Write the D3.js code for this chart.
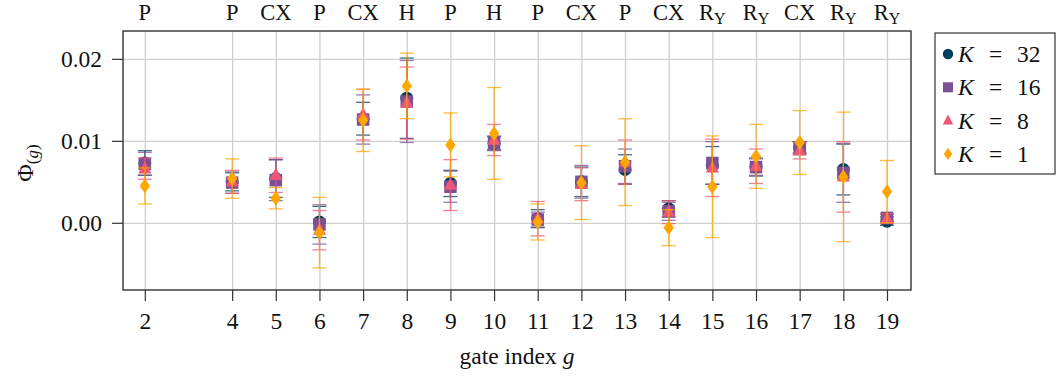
<!DOCTYPE html>
<html>
<head>
<meta charset="utf-8">
<script src="https://cdn.jsdelivr.net/npm/d3@7"></script>
<style>
  body { margin: 0; background: #fff; }
  text { font-family: "Liberation Serif", "DejaVu Serif", serif; fill: #111; }
  .grid line { stroke: #cfcfcf; stroke-width: 1.3; }
  .grid .domain { display: none; }
  .axis line { stroke: #333; stroke-width: 1.2; }
  .axis .domain { display: none; }
</style>
</head>
<body>
<div id="chart"></div>
<script>
const width = 1057;
const height = 376;
const margin = { top: 31, right: 146, bottom: 86, left: 123 };
const plotW = width - margin.left - margin.right;
const plotH = height - margin.top - margin.bottom;

// data
const gates = [2, 4, 5, 6, 7, 8, 9, 10, 11, 12, 13, 14, 15, 16, 17, 18, 19];
const gateLabels = ["P", "P", "CX", "P", "CX", "H", "P", "H", "P", "CX", "P", "CX", "RY", "RY", "CX", "RY", "RY"];
const yTicks = [0.00, 0.01, 0.02];

const meanK32 = [0.0073, 0.0050, 0.0054, 0.0001, 0.0127, 0.0152, 0.0048, 0.0097, 0.0005, 0.0050, 0.0065, 0.0017, 0.0070, 0.0068, 0.0092, 0.0065, 0.0002];
const errK32  = [0.0015, 0.0011, 0.0023, 0.0019, 0.0020, 0.0049, 0.0016, 0.0008, 0.0011, 0.0018, 0.0018, 0.0010, 0.0023, 0.0011, 0.0007, 0.0031, 0.0005];
const meanK16 = [0.0072, 0.0049, 0.0052, -0.0002, 0.0126, 0.0148, 0.0044, 0.0097, 0.0004, 0.0050, 0.0069, 0.0014, 0.0073, 0.0068, 0.0091, 0.0061, 0.0006];
const errK16  = [0.0014, 0.0013, 0.0025, 0.0024, 0.0030, 0.0050, 0.0019, 0.0009, 0.0009, 0.0020, 0.0021, 0.0011, 0.0026, 0.0010, 0.0008, 0.0036, 0.0005];
const meanK8  = [0.0066, 0.0050, 0.0058, -0.0009, 0.0132, 0.0146, 0.0046, 0.0101, 0.0005, 0.0047, 0.0074, 0.0013, 0.0067, 0.0069, 0.0088, 0.0056, 0.0005];
const errK8   = [0.0013, 0.0014, 0.0021, 0.0024, 0.0031, 0.0044, 0.0031, 0.0019, 0.0021, 0.0020, 0.0027, 0.0014, 0.0035, 0.0021, 0.0010, 0.0043, 0.0006];
const meanK1  = [0.0045, 0.0054, 0.0030, -0.0012, 0.0125, 0.0167, 0.0095, 0.0109, 0.0001, 0.0049, 0.0074, -0.0006, 0.0044, 0.0081, 0.0098, 0.0056, 0.0038];
const errK1   = [0.0022, 0.0024, 0.0013, 0.0043, 0.0038, 0.0040, 0.0039, 0.0056, 0.0022, 0.0045, 0.0053, 0.0022, 0.0062, 0.0039, 0.0039, 0.0079, 0.0038];

const series = [
  { k: "32", mean: meanK32, err: errK32, color: "#003f5c", shape: "circle" },
  { k: "16", mean: meanK16, err: errK16, color: "#7a5195", shape: "square" },
  { k: "8",  mean: meanK8,  err: errK8,  color: "#ef5675", shape: "triangle" },
  { k: "1",  mean: meanK1,  err: errK1,  color: "#ffa600", shape: "diamond" }
];

const svg = d3.select("#chart").append("svg")
  .attr("width", width)
  .attr("height", height);

const g = svg.append("g")
  .attr("transform", `translate(${margin.left},${margin.top})`);

const x = d3.scaleLinear().domain([1.5, 19.55]).range([0, plotW]);
const y = d3.scaleLinear().domain([-0.0082, 0.0234]).range([plotH, 0]);

// grid
g.append("g").attr("class", "grid")
  .attr("transform", `translate(0,${plotH})`)
  .call(d3.axisBottom(x).tickValues(gates).tickSize(-plotH).tickFormat(""));
g.append("g").attr("class", "grid")
  .call(d3.axisLeft(y).tickValues(yTicks).tickSize(-plotW).tickFormat(""));

// axes
const xAxis = g.append("g").attr("class", "axis")
  .attr("transform", `translate(0,${plotH})`)
  .call(d3.axisBottom(x).tickValues(gates).tickSize(11).tickPadding(8).tickFormat(d3.format("d")));
xAxis.selectAll("text").style("font-size", "23.5px").attr("dy", "0.85em");

const yAxis = g.append("g").attr("class", "axis")
  .call(d3.axisLeft(y).tickValues(yTicks).tickSize(11).tickPadding(10).tickFormat(d3.format(".2f")));
yAxis.selectAll("text").style("font-size", "23.5px");

// markers
function shapePath(shape, s) {
  if (shape === "circle") return d3.symbol(d3.symbolCircle, Math.PI * s * s * 0.27)();
  if (shape === "square") return d3.symbol(d3.symbolSquare, s * s)();
  if (shape === "triangle") {
    const h = s * 0.95;
    return `M0,${-h * 0.62}L${s / 2},${h * 0.38}L${-s / 2},${h * 0.38}Z`;
  }
  return `M0,${-s * 0.55}L${s * 0.38},0L0,${s * 0.55}L${-s * 0.38},0Z`;
}
const markerSize = { circle: 12.5, square: 12.5, triangle: 13, diamond: 13.5 };

const capW = 7;
series.forEach(s => {
  const pts = gates.map((gt, i) => ({ g: gt, m: s.mean[i], e: s.err[i] }));
  const eb = g.append("g")
    .attr("stroke", s.color)
    .attr("stroke-width", 1.3)
    .attr("stroke-opacity", 0.75);
  eb.selectAll(".v").data(pts).join("line")
    .attr("x1", d => x(d.g)).attr("x2", d => x(d.g))
    .attr("y1", d => y(d.m - d.e)).attr("y2", d => y(d.m + d.e));
  eb.selectAll(".t").data(pts).join("line")
    .attr("x1", d => x(d.g) - capW).attr("x2", d => x(d.g) + capW)
    .attr("y1", d => y(d.m + d.e)).attr("y2", d => y(d.m + d.e));
  eb.selectAll(".b").data(pts).join("line")
    .attr("x1", d => x(d.g) - capW).attr("x2", d => x(d.g) + capW)
    .attr("y1", d => y(d.m - d.e)).attr("y2", d => y(d.m - d.e));

  g.append("g").selectAll("path").data(pts).join("path")
    .attr("d", shapePath(s.shape, markerSize[s.shape]))
    .attr("transform", d => `translate(${x(d.g)},${y(d.m)})`)
    .attr("fill", s.color);
});

// frame
g.append("rect")
  .attr("width", plotW).attr("height", plotH)
  .attr("fill", "none").attr("stroke", "#333").attr("stroke-width", 1.4);

// top gate labels
const gateRow = svg.append("g");
gates.forEach((gt, i) => {
  const lab = gateLabels[i];
  const t = gateRow.append("text")
    .attr("x", margin.left + x(gt))
    .attr("y", 20)
    .attr("text-anchor", "middle")
    .style("font-size", "22.5px");
  if (lab === "RY") {
    t.append("tspan").text("R");
    t.append("tspan").text("Y").attr("dy", 4).style("font-size", "16px");
  } else {
    t.text(lab);
  }
});

// axis labels
svg.append("text")
  .attr("x", margin.left + plotW / 2)
  .attr("y", 364)
  .attr("text-anchor", "middle")
  .style("font-size", "23.5px")
  .call(t => {
    t.append("tspan").text("gate index ");
    t.append("tspan").text("g").style("font-style", "italic");
  });

const yl = svg.append("text")
  .attr("transform", "translate(33,163) rotate(-90)")
  .attr("text-anchor", "middle")
  .style("font-size", "24px");
yl.append("tspan").text("Φ");
yl.append("tspan").text("(").attr("dy", 5).style("font-size", "17px");
yl.append("tspan").text("g").style("font-size", "17px").style("font-style", "italic");
yl.append("tspan").text(")").style("font-size", "17px");

// legend
const leg = svg.append("g").attr("transform", "translate(935,33)");
leg.append("rect")
  .attr("width", 120).attr("height", 141)
  .attr("fill", "#fff").attr("stroke", "#333").attr("stroke-width", 1.2);
const legSize = { circle: 10, square: 10, triangle: 10.5, diamond: 11 };
series.forEach((s, i) => {
  const yy = 21 + i * 33.3;
  leg.append("path")
    .attr("d", shapePath(s.shape, legSize[s.shape]))
    .attr("transform", `translate(13,${yy})`)
    .attr("fill", s.color);
  const t = leg.append("text")
    .attr("y", yy + 8)
    .style("font-size", "23.5px");
  t.append("tspan").attr("x", 23).text("K").style("font-style", "italic");
  t.append("tspan").attr("x", 54).text("=");
  t.append("tspan").attr("x", 82).text(s.k);
});
</script>
</body>
</html>
